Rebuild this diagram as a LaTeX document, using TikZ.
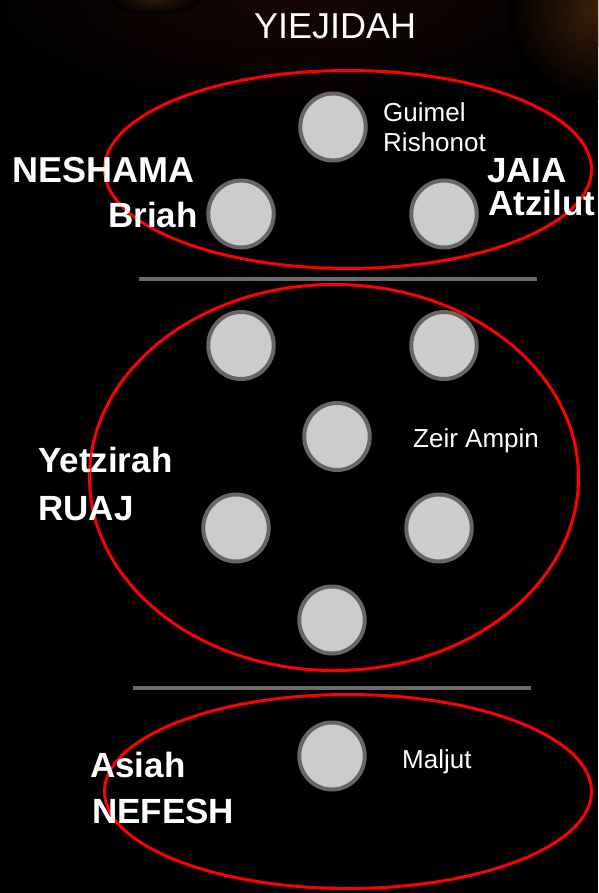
\documentclass[tikz,border=0pt]{standalone}
\usepackage{fontspec}
\setmainfont{Liberation Sans}
\usetikzlibrary{shapes.geometric}
\definecolor{sefira}{HTML}{CCCCCC}
\definecolor{rim}{HTML}{666666}
\definecolor{divider}{HTML}{6B6B6B}
\definecolor{ring}{HTML}{FF0000}
\definecolor{glowA}{HTML}{3C1E0A}
\definecolor{glowB}{HTML}{2E1A0A}
\definecolor{glowC}{HTML}{160605}
\begin{document}
\begin{tikzpicture}[x=1pt,y=-1pt,
  sefirah/.style={ellipse, fill=sefira, draw=rim, line width=4pt, minimum width=65.5pt, minimum height=67pt, inner sep=0pt},
  worldring/.style={ellipse, draw=ring, line width=3pt, inner sep=0pt},
  biglabel/.style={text=white, font=\bfseries\fontsize{35}{35}\selectfont, anchor=base west, inner sep=0pt},
  smalllabel/.style={text=white, font=\fontsize{26}{30}\selectfont, anchor=base west, inner sep=0pt},
  titlelabel/.style={text=white, font=\fontsize{36}{36}\selectfont, anchor=base west, inner sep=0pt},
  divline/.style={draw=divider, line width=3.5pt}]
\useasboundingbox (0,0) rectangle (598,893);
\fill[black] (0,0) rectangle (598,893);
\begin{scope}
  \clip (0,0) rectangle (598,893);
  \shade[inner color=glowC, outer color=black] (300,0) ellipse (330pt and 110pt);
  \shade[inner color=glowA, outer color=black] (598,10) circle (90pt);
  \shade[inner color=glowB, outer color=black] (155,0) ellipse (45pt and 14pt);
\end{scope}

% dividers
\coordinate (d1a) at (139,279);
\coordinate (d1b) at (537,279);
\coordinate (d2a) at (133,688);
\coordinate (d2b) at (531,688);
\draw[divline] (d1a) -- (d1b);
\draw[divline] (d2a) -- (d2b);

% sefirot
\node[sefirah] (keter) at (333,127) {};
\node[sefirah] (binah) at (241,214) {};
\node[sefirah] (chochmah) at (444,214) {};
\node[sefirah] (gevurah) at (241,345.5) {};
\node[sefirah] (chesed) at (444,345.5) {};
\node[sefirah] (tiferet) at (337,436.5) {};
\node[sefirah] (hod) at (236,528) {};
\node[sefirah] (netzach) at (439,528) {};
\node[sefirah] (yesod) at (332,620) {};
\node[sefirah] (maljutc) at (332,756) {};

% world rings
\node[worldring, minimum width=487pt, minimum height=198pt] (ringtop) at (348,169.5) {};
\node[worldring, minimum width=489pt, minimum height=386pt] (ringmid) at (334,477.5) {};
\node[worldring, minimum width=487pt, minimum height=194pt] (ringbot) at (348,791.5) {};

% labels
\node[titlelabel] (title) at (254,39) {YIEJIDAH};
\node[smalllabel] (guimel) at (383,122) {Guimel};
\node[smalllabel] (rishonot) at (383,152) {Rishonot};
\node[biglabel, font=\bfseries\fontsize{36}{36}\selectfont] (neshama) at (12,183) {NESHAMA};
\node[biglabel] (briah) at (108,227) {Briah};
\node[biglabel] (jaia) at (487,183) {JAIA};
\node[biglabel] (atzilut) at (488,215) {Atzilut};
\node[smalllabel] (zeir) at (413,447) {Zeir Ampin};
\node[biglabel] (yetzirah) at (38,472) {Yetzirah};
\node[biglabel] (ruaj) at (38,520) {RUAJ};
\node[biglabel] (asiah) at (90,777) {Asiah};
\node[biglabel] (nefesh) at (92,823) {NEFESH};
\node[smalllabel] (maljut) at (402,768) {Maljut};
\end{tikzpicture}
\end{document}
